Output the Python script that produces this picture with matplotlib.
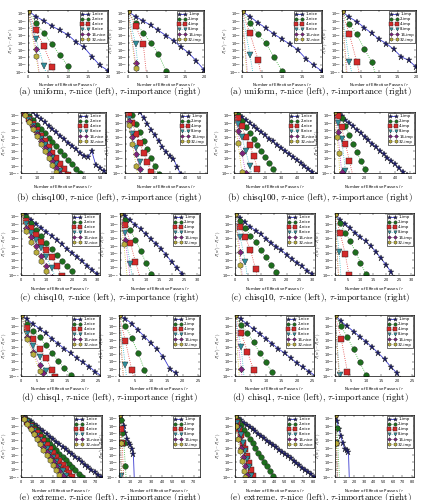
import matplotlib
matplotlib.use("Agg")
import matplotlib.pyplot as plt

plt.rcParams['mathtext.fontset'] = 'cm'
plt.rcParams['axes.formatter.use_mathtext'] = True

W, H = 424, 500
fig = plt.figure(figsize=(W / 100, H / 100), dpi=100)

taus = [1, 2, 4, 8, 16, 32]
datasets = ["uniform", "chisq100", "chisq10", "chisq1", "extreme"]
letters = ["a", "b", "c", "d", "e"]
xlabel_text = "Number of Effective Passes / $\\tau$"
ylabel_text = "$P(w^t) - P(w^*)$"

# Each panel: six series (tau = 1,2,4,8,16,32) as (x, log10 of suboptimality)
a_L_nice = [
    ([0, 2, 4, 6, 8, 10, 12, 14, 16, 18, 20], [-1.6, -2.4, -3.0, -3.7, -4.3, -4.9, -5.9, -6.6, -7.9, -9.1, -9.8]),
    ([0, 2, 4, 6, 8, 10, 11], [-1.6, -3.25, -4.7, -6.2, -7.7, -9.2, -11]),
    ([0, 2, 4, 6, 7], [-1.6, -4.3, -6.5, -9.3, -11]),
    ([0, 2, 4, 5], [-1.6, -5.5, -9.2, -11]),
    ([0, 2, 3], [-1.6, -6.8, -11]),
    ([0, 2, 3], [-1.6, -7.8, -11]),
]
a_L_imp = [
    ([0, 2, 4, 6, 8, 10, 12, 14, 16, 18, 20], [-1.7, -2.4, -3.0, -3.6, -4.3, -5.0, -5.7, -6.6, -7.4, -8.5, -9.7]),
    ([0, 2, 4, 6, 8, 10, 11], [-1.7, -3.25, -4.6, -6.0, -7.5, -9.9, -11]),
    ([0, 2, 4, 5], [-1.7, -3.7, -6.1, -11]),
    ([0, 2, 3], [-1.7, -6.2, -11]),
    ([0, 2, 3], [-1.7, -8.8, -11]),
    ([0, 2, 2.6], [-1.7, -9.5, -11]),
]
a_R_nice = [
    ([0, 2, 4, 6, 8, 10, 12, 14, 16, 18, 20], [-1.7, -2.4, -3.25, -4.0, -4.8, -5.5, -6.2, -7.0, -8.2, -9.1, -9.9]),
    ([0, 2, 4, 6, 8, 10, 11], [-1.7, -3.3, -4.85, -6.0, -8.0, -9.85, -11]),
    ([0, 2, 4, 5], [-1.7, -4.7, -8.3, -11]),
    ([0, 2, 3], [-1.7, -7.7, -11]),
    ([0, 1.5], [-1.7, -11]),
    ([0, 1.3], [-1.7, -11]),
]
a_R_imp = [
    ([0, 2, 4, 6, 8, 10, 12, 14, 16, 18, 20], [-1.7, -2.5, -3.1, -3.9, -4.7, -5.5, -6.1, -6.9, -7.9, -8.4, -9.3]),
    ([0, 2, 4, 6, 8, 9.5], [-1.7, -3.4, -4.85, -6.8, -8.6, -11]),
    ([0, 2, 4, 5], [-1.7, -4.85, -8.6, -11]),
    ([0, 2, 3], [-1.7, -8.6, -11]),
    ([0, 1.5], [-1.7, -11]),
    ([0, 1.3], [-1.7, -11]),
]

b_L_nice = [
    ([0, 2.5, 5, 7.5, 10, 12.5, 15, 17.5, 20, 22.5, 25, 27.5, 30, 32.5, 35, 37.5, 40, 42.5, 45, 47.5, 50, 52.5, 55],
     [-0.1, -0.6, -1.1, -1.55, -2.0, -2.5, -2.95, -3.4, -3.9, -4.35, -4.8, -5.3, -5.75, -6.2, -6.7, -7.2, -7.6, -7.8, -7.0, -8.9, -9.3, -9.7, -10.1]),
    ([0, 2.5, 5, 7.5, 10, 12.5, 15, 17.5, 20, 22.5, 25, 27.5, 30, 32.5, 35, 37.5, 40],
     [-0.8, -1.4, -2.0, -2.6, -3.25, -3.85, -4.45, -5.1, -5.7, -6.3, -6.95, -7.55, -8.2, -8.8, -9.4, -10.0, -10.6]),
    ([0, 2.5, 5, 7.5, 10, 12.5, 15, 17.5, 20, 22.5, 25, 27.5, 30],
     [-0.9, -1.65, -2.45, -3.2, -4.0, -4.8, -5.55, -6.35, -7.15, -7.9, -8.7, -9.5, -10.3]),
    ([0, 2.5, 5, 7.5, 10, 12.5, 15, 17.5, 20, 22.5, 25, 27.5],
     [-0.9, -1.75, -2.6, -3.5, -4.4, -5.25, -6.15, -7.0, -7.9, -8.8, -9.7, -10.6]),
    ([0, 2.5, 5, 7.5, 10, 12.5, 15, 17.5, 20, 22.5, 25],
     [-0.9, -1.8, -2.7, -3.65, -4.6, -5.5, -6.45, -7.4, -8.3, -9.25, -10.2]),
    ([0, 2.5, 5, 7.5, 10, 12.5, 15, 17.5, 20, 22.5, 25],
     [-0.9, -1.9, -2.9, -3.9, -4.9, -5.9, -6.9, -7.9, -8.9, -9.9, -10.9]),
]
b_L_imp = [
    ([0, 2.5, 5, 7.5, 10, 12.5, 15, 17.5, 20, 22.5, 25, 27.5, 30, 32.5, 35, 37.5],
     [1.6, 0.8, 0.0, -0.75, -1.55, -2.35, -3.15, -3.95, -4.75, -5.55, -6.35, -7.1, -7.7, -8.0, -9.2, -10.2]),
    ([0, 2.5, 5, 7.5, 10, 12.5, 15, 17.5, 20, 22.5],
     [0.4, -0.8, -1.95, -3.15, -4.3, -5.5, -6.7, -7.85, -9.0, -10.2]),
    ([0, 2.5, 5, 7.5, 10, 12.5, 15, 17.5, 20],
     [-0.4, -1.8, -3.1, -4.5, -5.85, -7.2, -8.5, -9.9, -11.2]),
    ([0, 2.5, 5, 7.5, 10, 12.5], [-0.5, -2.5, -4.5, -6.5, -8.5, -10.5]),
    ([0, 2.5, 5, 7.5, 10, 12.5], [-0.5, -2.8, -5.0, -7.3, -9.5, -11.8]),
    ([0, 2.5, 5, 7.5, 10], [-0.5, -3.3, -6.0, -9.0, -12]),
]
b_R_nice = [
    ([0, 2.5, 5, 7.5, 10, 12.5, 15, 17.5, 20, 22.5, 25, 27.5, 30, 32.5, 35, 37.5, 40, 42.5, 45, 47.5, 50, 52.5],
     [-1.3, -1.8, -2.2, -2.6, -3.05, -3.5, -3.9, -4.3, -4.75, -5.2, -5.6, -6.05, -6.45, -6.9, -7.3, -7.75, -8.15, -8.6, -9.0, -9.45, -9.85, -10.3]),
    ([0, 2.5, 5, 7.5, 10, 12.5, 15, 17.5, 20, 22.5, 25, 27.5],
     [-1.1, -1.9, -2.7, -3.55, -4.4, -5.25, -6.1, -6.95, -7.8, -8.6, -9.5, -10.35]),
    ([0, 2.5, 5, 7.5, 10, 12.5, 15, 17.5], [-1.3, -2.4, -3.5, -5.0, -6.1, -7.6, -9.4, -11]),
    ([0, 2.5, 5, 7.5, 10, 12.5], [-1.5, -3.2, -5.0, -7.0, -9.0, -11]),
    ([0, 2.5, 5, 7.5, 10], [-1.5, -4.1, -7.2, -10.0, -12]),
    ([0, 2.5, 5, 7.5], [-1.5, -5.8, -9.8, -13]),
]
b_R_imp = [
    ([0, 2.5, 5, 7.5, 10, 12.5, 15, 17.5, 20, 22.5, 25, 27.5, 30, 32.5, 35, 37.5, 40, 42.5, 45, 47.5],
     [-1.1, -1.6, -2.05, -2.55, -3.0, -3.5, -4.0, -4.45, -4.95, -5.45, -5.9, -6.4, -6.9, -7.35, -7.85, -8.35, -8.8, -9.3, -9.8, -10.3]),
    ([0, 2.5, 5, 7.5, 10, 12.5, 15, 17.5, 20, 22.5], [-1.2, -1.5, -2.4, -3.5, -4.7, -5.9, -7.1, -8.3, -9.5, -10.7]),
    ([0, 2.5, 5, 7.5, 10, 12.5], [-1.3, -2.0, -3.6, -5.9, -8.3, -10.5]),
    ([0, 2.5, 5, 7.5, 10], [-1.5, -3.0, -5.3, -9.7, -12]),
    ([0, 2.5, 5, 7.5], [-1.5, -4.3, -9.8, -13]),
    ([0, 2, 3, 4], [-1.5, -5.0, -7.2, -11]),
]

c_L_nice = [
    ([0, 2, 4, 6, 8, 10, 12, 14, 16, 18, 20, 22, 24, 26, 28, 30],
     [-1.3, -1.8, -2.4, -3.0, -3.5, -4.1, -4.6, -5.2, -5.8, -6.4, -6.95, -7.5, -8.1, -8.7, -9.3, -9.9]),
    ([0, 2, 4, 6, 8, 10, 12, 14, 16, 18, 20, 22], [-1.3, -2.1, -2.9, -3.8, -4.7, -5.6, -6.5, -7.3, -8.1, -8.8, -9.5, -10.4]),
    ([0, 2, 4, 6, 8, 10, 12, 14, 16], [-1.4, -2.6, -3.5, -4.5, -5.5, -6.6, -7.6, -8.8, -10.1]),
    ([0, 2, 4, 6, 8, 10, 12, 14], [-1.5, -3.0, -4.2, -5.2, -6.3, -7.6, -9.1, -10.6]),
    ([0, 2, 4, 6, 8, 10, 12], [-1.5, -3.5, -4.8, -6.0, -7.4, -8.8, -10.3]),
    ([0, 2, 4, 6, 8, 10, 12], [-1.5, -3.9, -5.5, -6.8, -8.1, -9.5, -11]),
]
c_L_imp = [
    ([0, 2, 4, 6, 8, 10, 12, 14, 16, 18, 20, 22, 24, 26],
     [-1.3, -1.9, -2.5, -3.1, -3.7, -4.4, -5.1, -5.7, -6.4, -7.3, -8.2, -9.0, -9.8, -10.6]),
    ([0, 2, 4, 6, 8, 10, 12, 13], [-1.5, -2.4, -3.8, -5.2, -6.7, -8.3, -9.8, -10.6]),
    ([0, 2, 4, 6, 8], [-1.5, -3.2, -5.6, -8.2, -10.6]),
    ([0, 2, 4, 5], [-1.5, -4.3, -8.5, -11]),
    ([0, 2, 4], [-1.5, -5.2, -10.5]),
    ([0, 1.5, 3], [-1.5, -5.8, -11]),
]
c_R_nice = [
    ([0, 2, 4, 6, 8, 10, 12, 14, 16, 18, 20, 22, 24, 26, 28, 30],
     [-1.7, -2.2, -2.8, -3.4, -3.9, -4.4, -5.0, -5.6, -6.1, -6.6, -7.2, -7.8, -8.3, -8.8, -9.4, -9.9]),
    ([0, 2, 4, 6, 8, 10, 12, 14, 16, 17], [-1.7, -2.6, -3.6, -4.6, -5.5, -6.6, -7.6, -8.6, -9.6, -10.5]),
    ([0, 2, 4, 6, 8, 9], [-1.7, -3.4, -4.8, -6.6, -9.2, -11]),
    ([0, 2, 4, 5], [-1.7, -4.8, -8.2, -11]),
    ([0, 2, 3], [-1.7, -6.8, -11]),
    ([0, 2, 2.8], [-1.7, -8.6, -11]),
]
c_R_imp = [
    ([0, 2, 4, 6, 8, 10, 12, 14, 16, 18, 20, 22, 23],
     [-1.7, -2.4, -3.0, -3.6, -4.2, -4.8, -5.4, -6.0, -6.8, -7.7, -8.6, -9.6, -10.4]),
    ([0, 2, 4, 6, 8, 10, 12, 13], [-1.7, -2.9, -4.2, -5.4, -6.8, -8.3, -9.8, -10.8]),
    ([0, 2, 4, 5.5, 6.5], [-1.7, -4.2, -7.1, -10.0, -11]),
    ([0, 1.6, 2.5], [-1.7, -6.8, -11]),
    ([0, 1.5], [-1.7, -11]),
    ([0, 1.5], [-1.7, -11]),
]

d_L_nice = [
    ([0, 2, 4, 6, 8, 10, 12, 14, 16, 18, 20, 22, 24, 26],
     [-1.5, -2.1, -2.8, -3.4, -4.0, -4.8, -5.5, -6.2, -6.8, -7.5, -8.1, -8.7, -9.4, -10.0]),
    ([0, 2, 4, 6, 8, 10, 12, 14, 16, 18], [-1.5, -2.8, -3.7, -4.6, -5.7, -6.8, -7.9, -8.9, -9.8, -10.7]),
    ([0, 2, 4, 6, 8, 10, 11], [-1.5, -3.3, -4.8, -6.2, -7.5, -9.1, -10.1]),
    ([0, 2, 4, 6, 8, 9], [-1.5, -4.1, -5.8, -7.4, -9.3, -10.5]),
    ([0, 2, 4, 6, 7, 8], [-1.5, -4.5, -6.6, -8.5, -9.6, -10.8]),
    ([0, 2, 4, 6, 7], [-1.5, -4.8, -7.0, -9.3, -10.6]),
]
d_L_imp = [
    ([0, 2, 4, 6, 8, 10, 12, 14, 16, 18, 19], [-1.5, -2.0, -2.7, -3.6, -4.5, -5.4, -6.3, -7.4, -9.0, -9.6, -10.5]),
    ([0, 2, 4, 6, 8, 9], [-1.5, -3.0, -4.7, -6.8, -9.1, -10.4]),
    ([0, 2, 4, 5], [-1.5, -5.1, -9.1, -11]),
    ([0, 2, 2.5], [-1.5, -8.5, -11]),
    ([0, 1.5], [-1.5, -11]),
    ([0, 1.5], [-1.5, -11]),
]
d_R_nice = [
    ([0, 2, 4, 6, 8, 10, 12, 14, 16, 18, 20, 22, 24, 26],
     [-1.5, -2.1, -2.8, -3.5, -4.1, -4.8, -5.5, -6.2, -6.8, -7.5, -8.2, -8.8, -9.4, -10.0]),
    ([0, 2, 4, 6, 8, 10, 12, 13], [-1.5, -2.9, -4.0, -5.3, -6.8, -8.1, -9.5, -10.5]),
    ([0, 2, 4, 6, 7], [-1.5, -4.0, -6.6, -9.2, -10.6]),
    ([0, 2, 3], [-1.5, -6.0, -10.5]),
    ([0, 2, 2.5], [-1.5, -9.0, -11]),
    ([0, 1.5], [-1.5, -11]),
]
d_R_imp = [
    ([0, 2, 4, 6, 8, 10, 12, 14, 16, 18, 20, 21], [-1.5, -2.4, -3.1, -3.8, -4.5, -5.2, -6.0, -6.8, -7.7, -8.7, -9.6, -10.4]),
    ([0, 2, 4, 6, 8, 10, 11], [-1.5, -3.1, -4.6, -6.3, -8.1, -9.8, -10.7]),
    ([0, 2, 4, 5], [-1.5, -4.8, -9.4, -11]),
    ([0, 1.5, 2], [-1.5, -9.9, -11]),
    ([0, 1.5], [-1.5, -11]),
    ([0, 1.5], [-1.5, -11]),
]

e_L_nice = [
    ([0, 3, 6, 9, 12, 15, 18, 21, 24, 27, 30, 33, 36, 39, 42, 45, 48, 51, 54, 57, 60, 63, 66, 69, 72, 75],
     [-1.3, -1.65, -2.0, -2.35, -2.7, -3.05, -3.4, -3.75, -4.1, -4.45, -4.8, -5.15, -5.5, -5.85, -6.2, -6.55, -6.9, -7.25, -7.6, -7.95, -8.3, -8.65, -9.0, -9.35, -9.7, -10.05]),
    ([0, 3, 6, 9, 12, 15, 18, 21, 24, 27, 30, 33, 36, 39, 42, 45, 48, 51, 54, 57, 60],
     [-1.3, -1.75, -2.2, -2.7, -3.15, -3.6, -4.05, -4.5, -4.95, -5.45, -5.9, -6.35, -6.8, -7.25, -7.7, -8.2, -8.65, -9.1, -9.55, -10.0, -10.5]),
    ([0, 3, 6, 9, 12, 15, 18, 21, 24, 27, 30, 33, 36, 39, 42, 45, 48, 51],
     [-1.3, -1.85, -2.4, -2.95, -3.5, -4.0, -4.55, -5.1, -5.65, -6.2, -6.75, -7.3, -7.8, -8.35, -8.9, -9.45, -10.0, -10.5]),
    ([0, 3, 6, 9, 12, 15, 18, 21, 24, 27, 30, 33, 36, 39, 42, 45],
     [-1.3, -1.9, -2.5, -3.1, -3.75, -4.35, -4.95, -5.55, -6.15, -6.75, -7.35, -8.0, -8.6, -9.2, -9.8, -10.4]),
    ([0, 3, 6, 9, 12, 15, 18, 21, 24, 27, 30, 33, 36, 39, 42],
     [-1.3, -1.95, -2.6, -3.25, -3.9, -4.55, -5.2, -5.9, -6.55, -7.2, -7.85, -8.5, -9.15, -9.8, -10.45]),
    ([0, 3, 6, 9, 12, 15, 18, 21, 24, 27, 30, 33, 36, 39],
     [-1.3, -2.0, -2.7, -3.4, -4.1, -4.8, -5.5, -6.25, -6.95, -7.65, -8.35, -9.05, -9.75, -10.45]),
]
e_L_imp = [
    ([0, 1.5, 3, 4.5, 6, 7.5, 9, 10.5, 12, 13.5, 14.5], [-1.5, -1.7, -2.3, -3.0, -4.0, -4.8, -5.4, -5.6, -6.2, -6.8, -11]),
    ([0, 1.5, 3, 4.5, 6, 7], [-1.5, -2.2, -4.0, -5.4, -8.5, -11]),
    ([0, 1.5, 3, 4.5], [-1.5, -3.4, -5.3, -11]),
    ([0, 1.5, 2.2, 3], [-1.5, -5.5, -9.9, -11]),
    ([0, 1.5, 2.5], [-1.5, -5.4, -11]),
    ([0, 1.5, 2.5], [-1.5, -5.3, -11]),
]
e_R_nice = [
    ([0, 3, 6, 9, 12, 15, 18, 21, 24, 27, 30, 33, 36, 39, 42, 45, 48, 51, 54, 57, 60, 63, 66, 69, 72, 75, 78, 81, 84],
     [-1.6, -1.9, -2.2, -2.55, -2.85, -3.15, -3.45, -3.75, -4.05, -4.4, -4.7, -5.0, -5.3, -5.6, -5.95, -6.25, -6.55, -6.85, -7.15, -7.45, -7.8, -8.1, -8.4, -8.7, -9.0, -9.35, -9.65, -9.95, -10.25]),
    ([0, 3, 6, 9, 12, 15, 18, 21, 24, 27, 30, 33, 36, 39, 42],
     [-1.6, -2.2, -2.85, -3.5, -4.1, -4.75, -5.4, -6.0, -6.65, -7.3, -7.9, -8.55, -9.2, -9.8, -10.45]),
    ([0, 2, 4, 6, 8, 10, 12, 14, 16, 18, 20], [-1.6, -2.5, -3.4, -4.3, -5.3, -6.2, -7.1, -8.1, -9.0, -9.9, -10.8]),
    ([0, 2, 4, 6, 8, 10, 12, 14, 16, 17], [-1.6, -2.6, -3.4, -4.2, -5.4, -6.5, -7.5, -8.6, -9.8, -10.6]),
    ([0, 2, 4, 6, 8, 10, 12, 13], [-1.6, -3.0, -4.6, -6.0, -7.3, -8.5, -9.7, -10.5]),
    ([0, 1, 3, 5, 7, 9, 10, 11], [-1.6, -3.0, -4.8, -6.4, -7.8, -9.2, -10.0, -11]),
]
e_R_imp = [
    ([0, 2, 4, 6, 8, 10, 12, 14, 15], [-1.5, -2.3, -3.4, -4.4, -5.4, -6.1, -6.3, -6.6, -11]),
    ([0, 2, 5], [-1.5, -3.3, -11]),
    ([0, 1.5, 3], [-1.5, -5.3, -11]),
    ([0, 1.5, 2.5], [-1.5, -5.4, -11]),
    ([0, 1.5, 2.5], [-1.5, -5.4, -11]),
    ([0, 1.5, 2.5], [-1.5, -5.4, -11]),
]

# x-axis ranges and tick steps per row (left pair, right pair)
xlims = [((20, 20), (20, 20)), ((54, 55), (53, 53)), ((31, 31), (31, 31)),
         ((25.5, 25.5), (25.5, 25.5)), ((76, 76), (82, 82))]
xstep = [5, 10, 5, 5, 10]

panels = [
    (a_L_nice, a_L_imp, a_R_nice, a_R_imp),
    (b_L_nice, b_L_imp, b_R_nice, b_R_imp),
    (c_L_nice, c_L_imp, c_R_nice, c_R_imp),
    (d_L_nice, d_L_imp, d_R_nice, d_R_imp),
    (e_L_nice, e_L_imp, e_R_nice, e_R_imp),
]

# pixel frames (top, bottom) and x-extents of the four axes in each row
row_tb = [(10, 72), (112, 173), (213, 275), (315, 376), (415, 477)]
row_x = [
    [(28, 108), (128, 204), (242, 322), (342, 416)],
    [(21, 106), (125, 207), (234, 317), (334, 415)],
    [(21, 100), (120, 200), (235, 315), (335, 414)],
    [(21, 100), (119, 200), (235, 314), (335, 414)],
    [(21, 102), (119, 200), (235, 315), (335, 414)],
]
caption_y = [92, 197, 298, 398, 497]

MK = ['*', 'o', 's', 'v', 'D', 'h']
MS = [5.0, 4.0, 3.8, 4.0, 3.2, 4.2]
MFC = ['#1c1c6e', '#1d6e1d', '#d42a2a', '#2f8f9c', '#7d237d', '#b9ad3c']
LC = ['#3a3ad0', '#35b035', '#e04040', '#30b8c8', '#c040c0', '#d0c030']
LS = ['-', ':', ':', ':', ':', ':']


def draw(ax, series, kind, xmax, step):
    for i, (xs, ly) in enumerate(series):
        ys = [10.0 ** v for v in ly]
        ax.plot(xs, ys, linestyle=LS[i], color=LC[i], lw=0.6,
                marker=MK[i], ms=MS[i], mfc=MFC[i], mec='#202020', mew=0.3,
                label=f"{taus[i]}-{kind}")
    ax.set_yscale('log')
    ax.set_ylim(1e-10, 10 ** -1.5)
    ax.set_yticks([10.0 ** -k for k in range(2, 11)])
    ax.minorticks_off()
    ax.set_xlim(0, xmax)
    ax.set_xticks(list(range(0, int(xmax) + 1, step)))
    ax.tick_params(labelsize=2.5, direction='in', length=1.5, width=0.3,
                   top=True, right=True, pad=0.8)
    for s in ax.spines.values():
        s.set_linewidth(0.5)
    ax.set_xlabel(xlabel_text, fontsize=2.8, labelpad=1)
    ax.set_ylabel(ylabel_text, fontsize=2.8, labelpad=0.5)
    leg = ax.legend(loc='upper right', fontsize=2.8, numpoints=2, handlelength=2.2,
                    markerscale=0.6, borderpad=0.3, labelspacing=0.3,
                    handletextpad=0.5, borderaxespad=0.2, fancybox=False,
                    edgecolor='black', framealpha=1)
    leg.get_frame().set_linewidth(0.4)


kinds = ['nice', 'imp', 'nice', 'imp']
for r in range(5):
    top, bot = row_tb[r]
    for j in range(4):
        x0, x1 = row_x[r][j]
        ax = fig.add_axes([x0 / W, 1 - bot / H, (x1 - x0) / W, (bot - top) / H])
        xmax = xlims[r][j // 2][j % 2]
        draw(ax, panels[r][j], kinds[j], xmax, xstep[r])
    cap = f"({letters[r]}) {datasets[r]}, $\\tau$-nice (left), $\\tau$-importance (right)"
    for cx in (109, 320):
        fig.text(cx / W, 1 - caption_y[r] / H, cap, ha='center', va='center',
                 fontsize=6.5, family='cmr10')

fig.savefig('out.png', dpi=100)
